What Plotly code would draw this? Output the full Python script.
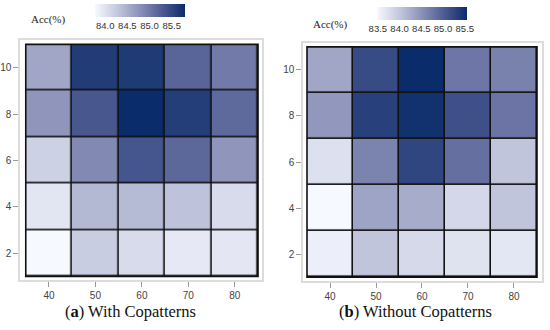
import plotly.graph_objects as go

x_vals = [40, 50, 60, 70, 80]
y_vals = [2, 4, 6, 8, 10]

# rows ordered by y (2,4,6,8,10), columns by x (40..80)
acc_with = [
    [83.77, 84.22, 84.07, 83.93, 83.95],
    [83.97, 84.42, 84.40, 84.32, 84.07],
    [84.18, 84.85, 85.35, 85.17, 84.74],
    [84.74, 85.33, 85.80, 85.60, 85.15],
    [84.58, 85.62, 85.64, 85.19, 84.99],
]
acc_without = [
    [83.58, 84.02, 83.81, 83.71, 83.67],
    [83.48, 84.33, 84.25, 83.83, 84.02],
    [83.73, 84.64, 85.26, 84.83, 84.02],
    [84.45, 85.32, 85.49, 85.14, 84.78],
    [84.31, 85.20, 85.55, 84.76, 84.66],
]
cbar_ticks_a = [84.0, 84.5, 85.0, 85.5]
cbar_ticks_b = [83.5, 84.0, 84.5, 85.0, 85.5]
captions = ["(<b>a</b>) With Copatterns", "(<b>b</b>) Without Copatterns"]
cbar_title = "Acc(%)"

colorscale = [
    [0.0, "#f6f9ff"],
    [0.25, "#c3c7de"],
    [0.5, "#8a90b8"],
    [0.75, "#4d5a91"],
    [1.0, "#0a2c6a"],
]

W, H = 550, 330
fig = go.Figure()

panels = [
    dict(z=acc_with, ticks=cbar_ticks_a, xa="x", ya="y",
         xdom=[20 / W, 262 / W], ydom=[1 - 280 / H, 1 - 40 / H],
         xr=[33.76, 85.86], yr=[0.85, 11.19],
         cbx=140 / W, cby=1 - 4 / H, titlex=48 / W, titley=1 - 20 / H,
         capx=130 / W),
    dict(z=acc_without, ticks=cbar_ticks_b, xa="x2", ya="y2",
         xdom=[303 / W, 542 / W], ydom=[1 - 281 / H, 1 - 43 / H],
         xr=[34.13, 86.09], yr=[0.83, 11.17],
         cbx=422 / W, cby=1 - 7 / H, titlex=330 / W, titley=1 - 24 / H,
         capx=415 / W),
]

shapes = []
annotations = []
for i, p in enumerate(panels):
    fig.add_trace(go.Heatmap(
        x=x_vals, y=y_vals, z=p["z"], colorscale=colorscale,
        xgap=1.6, ygap=1.6, xaxis=p["xa"], yaxis=p["ya"],
        colorbar=dict(
            orientation="h", x=p["cbx"], xanchor="center",
            y=p["cby"], yanchor="top", len=90, lenmode="pixels",
            thickness=13, outlinewidth=0,
            tickvals=p["ticks"], tickformat=".1f", ticks="", tickangle=0,
            tickfont=dict(family="Liberation Sans", size=9.5, color="#333"),
            ypad=0, xpad=0,
        ),
    ))
    step_x = x_vals[1] - x_vals[0]
    step_y = y_vals[1] - y_vals[0]
    x0, x1 = x_vals[0] - step_x / 2, x_vals[-1] + step_x / 2
    y0, y1 = y_vals[0] - step_y / 2, y_vals[-1] + step_y / 2
    shapes.append(dict(type="rect", xref=p["xa"], yref=p["ya"],
                       x0=x0, x1=x1, y0=y0, y1=y1,
                       fillcolor="#111", line=dict(width=0), layer="below"))
    shapes.append(dict(type="rect", xref=p["xa"], yref=p["ya"],
                       x0=x0, x1=x1, y0=y0, y1=y1,
                       fillcolor="rgba(0,0,0,0)",
                       line=dict(color="#111", width=1.6), layer="above"))
    annotations.append(dict(text=cbar_title, x=p["titlex"], y=p["titley"],
                            xref="paper", yref="paper", showarrow=False,
                            xanchor="center", yanchor="middle",
                            font=dict(family="Liberation Serif", size=11, color="#222")))
    annotations.append(dict(text=captions[i], x=p["capx"], y=1 - 311 / H,
                            xref="paper", yref="paper", showarrow=False,
                            xanchor="center", yanchor="middle",
                            font=dict(family="Liberation Serif", size=16.5, color="#111")))

    axis_common = dict(showgrid=False, zeroline=False, showline=True,
                       linecolor="#dcdcdc", linewidth=1.5, mirror=True,
                       ticks="outside", ticklen=5, tickcolor="#999",
                       tickfont=dict(family="Liberation Sans", size=10, color="#444"))
    xkey = "xaxis" if i == 0 else "xaxis2"
    ykey = "yaxis" if i == 0 else "yaxis2"
    fig.update_layout({
        xkey: dict(domain=p["xdom"], range=p["xr"], tickvals=x_vals,
                   anchor=p["ya"], **axis_common),
        ykey: dict(domain=p["ydom"], range=p["yr"], tickvals=y_vals,
                   anchor=p["xa"], **axis_common),
    })

fig.update_layout(
    width=W, height=H, margin=dict(l=0, r=0, t=0, b=0, autoexpand=False),
    paper_bgcolor="white", plot_bgcolor="white",
    shapes=shapes, annotations=annotations, showlegend=False,
)

fig.write_html(
    "out.html",
    config={"displayModeBar": False},
    post_script="document.body.style.margin='0';document.body.style.overflow='hidden';",
)
